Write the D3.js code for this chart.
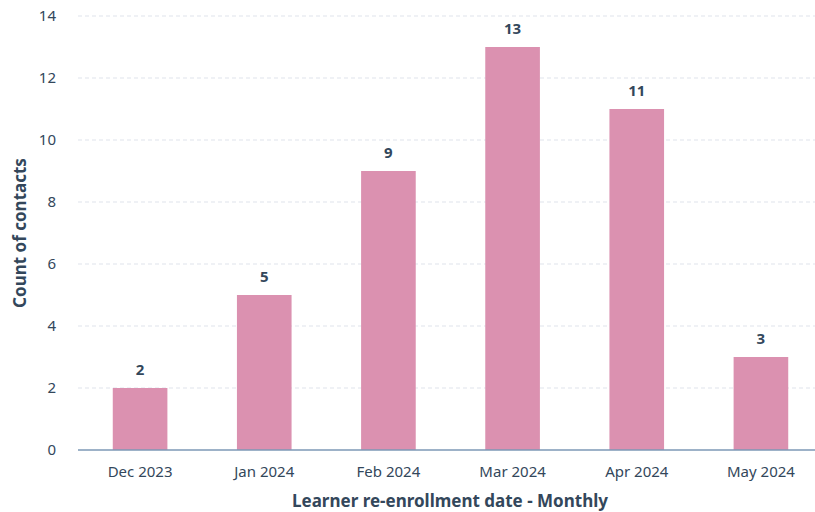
<!DOCTYPE html>
<html>
<head>
<meta charset="utf-8">
<script src="https://cdn.jsdelivr.net/npm/d3@7"></script>
<style>
  body { margin: 0; background: #fff; }
  svg text { font-family: 'Noto Sans', 'Lato', sans-serif; fill: #33475b; }
  .grid line { stroke: #dfe3eb; stroke-dasharray: 4 3; }
  .tick text { font-size: 15px; }
  .value { font-size: 15px; font-weight: 700; }
  .title { font-size: 17px; font-weight: 700; }
</style>
</head>
<body>
<svg id="chart" width="815" height="512"></svg>
<script>
const months = ['Dec 2023', 'Jan 2024', 'Feb 2024', 'Mar 2024', 'Apr 2024', 'May 2024'];
const counts = [2, 5, 9, 13, 11, 3];
const yTicks = [0, 2, 4, 6, 8, 10, 12, 14];

const svg = d3.select('#chart');
const margin = { left: 78, right: -8, top: 16, bottom: 62 };
const width = 815, height = 512;

const x = d3.scaleBand()
  .domain(months)
  .range([margin.left, width - margin.right])
  .paddingInner(0.56)
  .paddingOuter(0.28);

const y = d3.scaleLinear()
  .domain([0, 14])
  .range([height - margin.bottom, margin.top]);

// gridlines
svg.append('g').attr('class', 'grid')
  .selectAll('line')
  .data(yTicks.filter(d => d > 0))
  .join('line')
    .attr('x1', margin.left)
    .attr('x2', width)
    .attr('y1', d => y(d))
    .attr('y2', d => y(d));

// y axis labels
const yAxis = svg.append('g')
  .attr('transform', `translate(${margin.left},0)`)
  .call(d3.axisLeft(y).tickValues(yTicks).tickSize(0).tickPadding(22));
yAxis.select('.domain').remove();

// bars
svg.append('g').selectAll('rect')
  .data(counts)
  .join('rect')
    .attr('x', (d, i) => x(months[i]))
    .attr('y', d => y(d))
    .attr('width', x.bandwidth())
    .attr('height', d => y(0) - y(d))
    .attr('fill', '#db91b0');

// value labels
svg.append('g').selectAll('text')
  .data(counts)
  .join('text')
    .attr('class', 'value')
    .attr('text-anchor', 'middle')
    .attr('x', (d, i) => x(months[i]) + x.bandwidth() / 2)
    .attr('y', d => y(d) - 13)
    .text(d => d);

// x axis
const xAxis = svg.append('g')
  .attr('transform', `translate(0,${y(0)})`)
  .call(d3.axisBottom(x).tickSize(0).tickPadding(16));
xAxis.select('.domain')
  .attr('d', `M${margin.left},0H${width}`)
  .attr('stroke', '#7c98b6')
  .attr('stroke-width', 1.5);

// axis titles
svg.append('text')
  .attr('class', 'title')
  .attr('text-anchor', 'middle')
  .attr('x', 450)
  .attr('y', 507)
  .text('Learner re-enrollment date - Monthly');

svg.append('text')
  .attr('class', 'title')
  .attr('text-anchor', 'middle')
  .attr('transform', `translate(26,${233}) rotate(-90)`)
  .text('Count of contacts');
</script>
</body>
</html>
